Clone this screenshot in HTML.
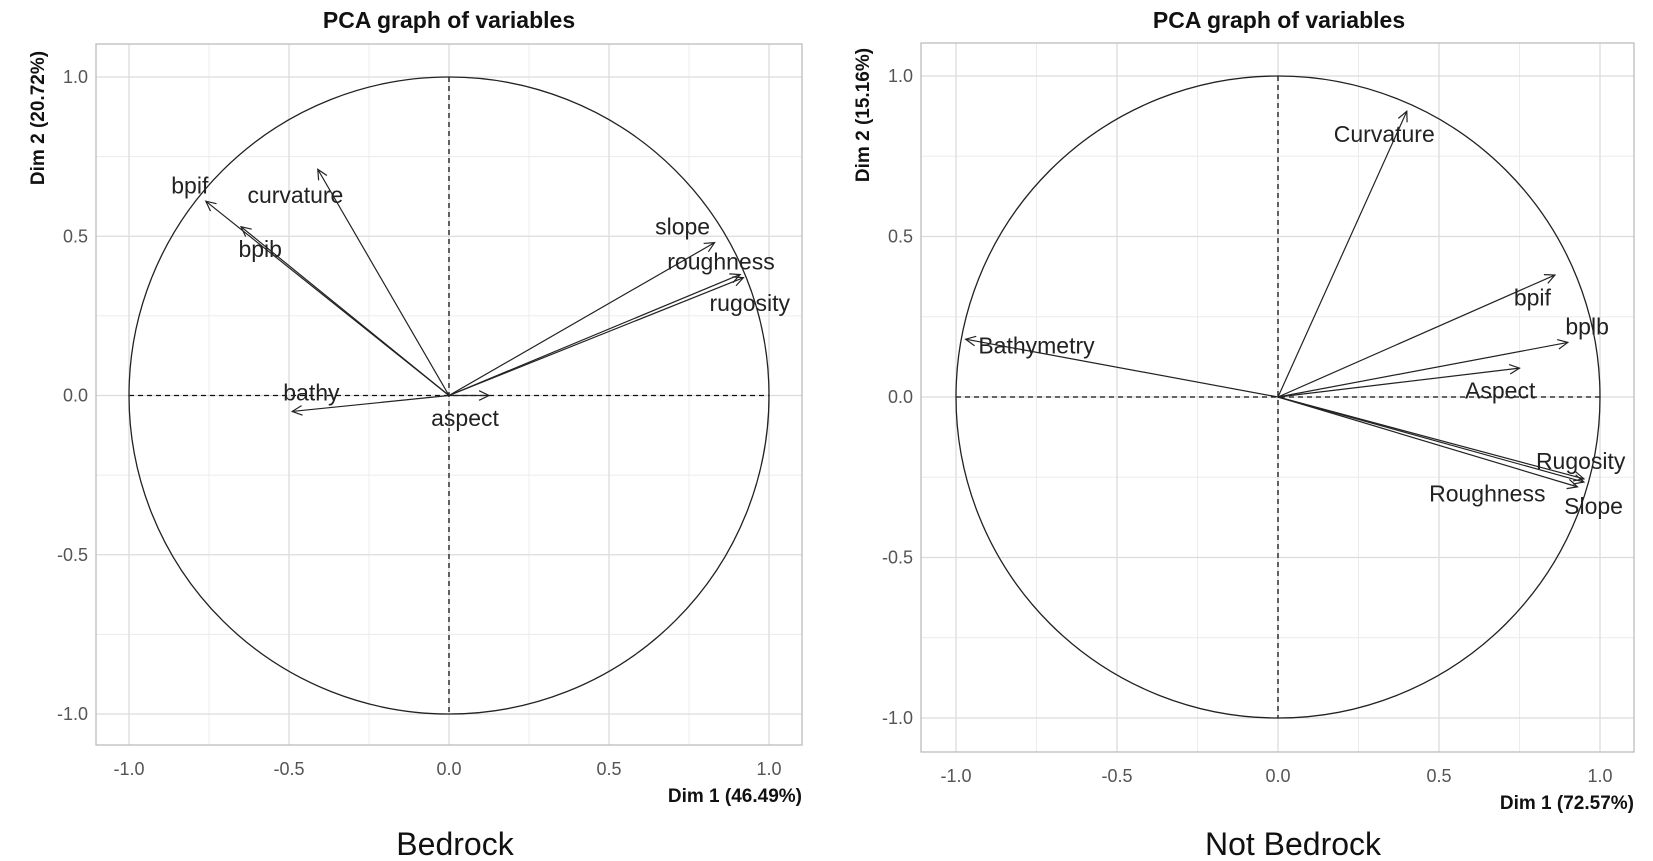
<!DOCTYPE html>
<html><head><meta charset="utf-8"><style>
html,body{margin:0;padding:0;background:#fff;}
svg{display:block;font-family:"Liberation Sans",sans-serif;}
</style></head><body>
<svg id="s" width="1653" height="861" viewBox="0 0 1653 861" xmlns="http://www.w3.org/2000/svg"></svg>
<script>
const NS="http://www.w3.org/2000/svg";
const S=document.getElementById('s');
function el(t,a,txt){const e=document.createElementNS(NS,t);for(const k in a)e.setAttribute(k,a[k]);if(txt!==undefined)e.textContent=txt;S.appendChild(e);return e;}
function panel(P){
  const X=v=>P.x0+v*P.sx, Y=v=>P.y0-v*P.sy;
  [-0.75,-0.25,0.25,0.75].forEach(v=>{
    el('line',{x1:X(v),x2:X(v),y1:P.top,y2:P.bot,stroke:'#ececec','stroke-width':1});
    el('line',{y1:Y(v),y2:Y(v),x1:P.left,x2:P.right,stroke:'#ececec','stroke-width':1});
  });
  [-1,-0.5,0,0.5,1].forEach(v=>{
    el('line',{x1:X(v),x2:X(v),y1:P.top,y2:P.bot,stroke:'#dcdcdc','stroke-width':1.3});
    el('line',{y1:Y(v),y2:Y(v),x1:P.left,x2:P.right,stroke:'#dcdcdc','stroke-width':1.3});
    const lab=v.toFixed(1);
    el('text',{x:X(v),y:P.bot+30,'text-anchor':'middle','font-size':18,fill:'#555'},lab);
    el('text',{x:P.left-8,y:Y(v)+6,'text-anchor':'end','font-size':18,fill:'#555'},lab);
  });
  el('rect',{x:P.left,y:P.top,width:P.right-P.left,height:P.bot-P.top,fill:'none',stroke:'#bdbdbd','stroke-width':1.3});
  el('line',{x1:X(-1),x2:X(1),y1:Y(0),y2:Y(0),stroke:'#111','stroke-width':1.3,'stroke-dasharray':'5,4'});
  el('line',{x1:X(0),x2:X(0),y1:Y(1),y2:Y(-1),stroke:'#111','stroke-width':1.3,'stroke-dasharray':'5,4'});
  el('ellipse',{cx:P.x0,cy:P.y0,rx:P.sx,ry:P.sy,fill:'none',stroke:'#222','stroke-width':1.3});
  P.arrows.forEach(a=>{
    const x1=X(a[0]),y1=Y(a[1]),x0=P.x0,y0=P.y0;
    el('line',{x1:x0,y1:y0,x2:x1,y2:y1,stroke:'#222','stroke-width':1.2});
    const ang=Math.atan2(y1-y0,x1-x0),L=11,d=0.45;
    const p=(s)=>[x1-L*Math.cos(ang+s*d),y1-L*Math.sin(ang+s*d)];
    const A=p(1),B=p(-1);
    el('polyline',{points:`${A[0]},${A[1]} ${x1},${y1} ${B[0]},${B[1]}`,fill:'none',stroke:'#222','stroke-width':1.2});
  });
  P.labels.forEach(l=>{
    el('text',{x:X(l[1]),y:Y(l[2])+8,'text-anchor':'middle','font-size':23,fill:'#222'},l[0]);
  });
  el('text',{x:P.tx,y:28,'text-anchor':'middle','font-size':23,'font-weight':'bold',fill:'#111'},'PCA graph of variables');
  el('text',{x:P.right,y:P.bot+57,'text-anchor':'end','font-size':19,'font-weight':'bold',fill:'#111'},P.xl);
  el('text',{x:0,y:0,'text-anchor':'middle','font-size':19,'font-weight':'bold',fill:'#111',transform:`translate(${P.yx},${P.yc}) rotate(-90)`},P.yl);
  el('text',{x:P.cx,y:855,'text-anchor':'middle','font-size':32,fill:'#111'},P.cap);
}
panel({x0:449,sx:320,y0:395.5,sy:318.5,left:96,right:802,top:44,bot:745,tx:449,yx:44,yc:118,
 xl:'Dim 1 (46.49%)',yl:'Dim 2 (20.72%)',cap:'Bedrock',cx:455,
 arrows:[[-0.76,0.61],[-0.65,0.53],[-0.41,0.71],[0.83,0.48],[0.91,0.38],[0.92,0.37],[-0.49,-0.05],[0.125,0.0]],
 labels:[['bpif',-0.81,0.66],['curvature',-0.48,0.63],['bpib',-0.59,0.46],['slope',0.73,0.53],['roughness',0.85,0.42],['rugosity',0.94,0.29],['bathy',-0.43,0.01],['aspect',0.05,-0.07]]});
panel({x0:1278,sx:322,y0:397,sy:321,left:921,right:1634,top:43,bot:752,tx:1279,yx:869,yc:115,
 xl:'Dim 1 (72.57%)',yl:'Dim 2 (15.16%)',cap:'Not Bedrock',cx:1293,
 arrows:[[0.40,0.89],[0.86,0.38],[0.90,0.17],[0.75,0.09],[-0.97,0.18],[0.95,-0.255],[0.95,-0.265],[0.93,-0.28]],
 labels:[['Curvature',0.33,0.82],['bpif',0.79,0.31],['bplb',0.96,0.22],['Aspect',0.69,0.02],['Bathymetry',-0.75,0.16],['Rugosity',0.94,-0.20],['Slope',0.98,-0.34],['Roughness',0.65,-0.30]]});
</script>
</body></html>
